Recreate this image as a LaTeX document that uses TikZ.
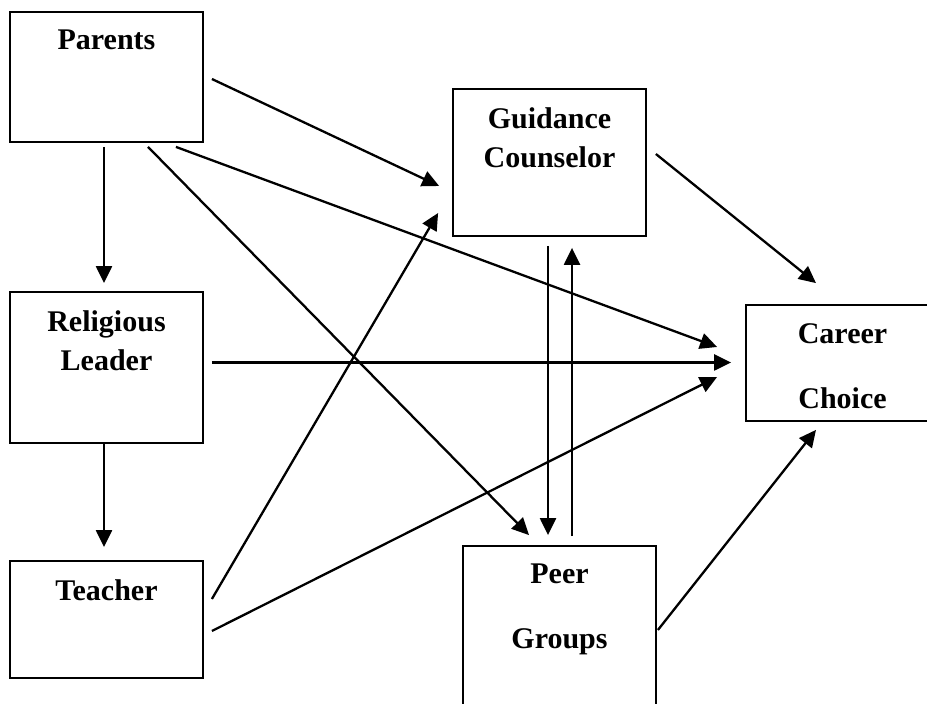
\documentclass[tikz,border=0pt]{standalone}
\usepackage{fontspec}
\setmainfont{Liberation Serif}
\usetikzlibrary{arrows.meta}
\begin{document}
\begin{tikzpicture}[x=1pt,y=1pt,
    box/.style={draw,line width=1.8pt,minimum width=193pt,inner sep=0pt},
    lbl/.style={anchor=north,inner sep=0pt,yshift=-19pt,align=center,
      font=\fontsize{30}{39}\selectfont\bfseries}]
      \useasboundingbox (0,0) rectangle (927,704);
      \clip (0,0) rectangle (927,704);
      \draw
        (106.5,627) node[box,minimum height=130pt,label={[lbl]north:Parents}] (par){}
        (106.5,336.5) node[box,minimum height=151pt,label={[lbl]north:Religious\\Leader}] (rel){}
        (106.5,84.5) node[box,minimum height=117pt,label={[lbl]north:Teacher}] (tch){}
        (549.5,541.5) node[box,minimum height=147pt,label={[lbl]north:Guidance\\Counselor}] (gdc){}
        (842.5,341) node[box,minimum height=116pt,label={[lbl]north:Career\\[26pt]Choice}] (car){}
        (559.5,76) node[box,minimum height=164pt,label={[lbl]north:Peer\\[26pt]Groups}] (peer){};
      \begin{scope}[line width=2.3pt,-{Triangle[length=17pt,width=16pt]}]
        \draw ([xshift=8pt,yshift=-2pt]par.east) to ([xshift=-13pt,yshift=-23.5pt]gdc.west);
        \draw ([xshift=-28pt,yshift=-4pt]par.south east) to ([xshift=-28pt,yshift=16pt]car.west);
        \draw ([xshift=41.5pt,yshift=-4pt]par.south) to ([xshift=-30.5pt,yshift=10pt]peer.north);
        \draw ([xshift=-2.5pt,yshift=-4pt]par.south) to ([xshift=-2.5pt,yshift=8pt]rel.north);
        \draw ([xshift=8pt,yshift=5pt]rel.east) to ([xshift=-14pt,yshift=0.5pt]car.west);
        \draw ([xshift=-2.5pt]rel.south) to ([xshift=-2.5pt,yshift=13pt]tch.north);
        \draw ([xshift=8pt,yshift=20.5pt]tch.east) to ([xshift=-14pt,yshift=-50.5pt]gdc.west);
        \draw ([xshift=8pt,yshift=-11.5pt]tch.east) to ([xshift=-28pt,yshift=-14pt]car.west);
        \draw ([xshift=9pt,yshift=8.5pt]gdc.east) to ([xshift=-26.5pt,yshift=21pt]car.north);
        \draw ([xshift=-1.5pt,yshift=-9pt]gdc.south) to ([xshift=-11.5pt,yshift=10pt]peer.north);
        \draw ([xshift=12.5pt,yshift=9pt]peer.north) to ([xshift=22.5pt,yshift=-11pt]gdc.south);
        \draw ([xshift=1pt,yshift=-2pt]peer.east) to ([xshift=-26.5pt,yshift=-8pt]car.south);
      \end{scope}
    \end{tikzpicture}
\end{document}
